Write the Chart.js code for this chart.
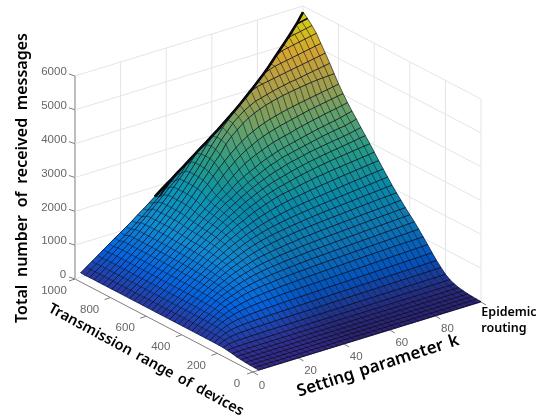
<!DOCTYPE html>
<html>
<head>
<meta charset="utf-8">
<title>Total number of received messages</title>
<script src="https://cdn.jsdelivr.net/npm/chart.js@4/dist/chart.umd.js"></script>
<style>
  html, body { margin: 0; padding: 0; background: #fff; }
  #wrap { width: 546px; height: 419px; }
</style>
</head>
<body>
<div id="wrap"><canvas id="chart" width="546" height="419"></canvas></div>
<script>
/* ---------- Data ---------- */
const zTicks = [0, 1000, 2000, 3000, 4000, 5000, 6000];
const rangeTicks = [0, 200, 400, 600, 800, 1000];
const kTicks = [0, 20, 40, 60, 80];

const kValues = [2.5,5,7.5,10,12.5,15,17.5,20,22.5,25,27.5,30,32.5,35,37.5,40,42.5,45,47.5,50,
  52.5,55,57.5,60,62.5,65,67.5,70,72.5,75,77.5,80,82.5,85,87.5,90,92.5,95,97.5,100];
const rangeValues = [0,25,50,75,100,125,150,175,200,225,250,275,300,325,350,375,400,425,450,475,500,
  525,550,575,600,625,650,675,700,725,750,775,800,825,850,875,900,925,950,975,1000];

// one row per transmission range, one column per k
const messages = [
  [8,8,8,8,8,8,8,8,8,8,8,8,8,8,8,9,9,9,9,9,9,9,9,9,9,9,9,9,9,9,9,10,10,10,10,10,10,10,10,10],
  [11,11,12,12,12,12,12,12,12,12,12,12,12,13,13,13,13,13,13,13,13,13,13,14,14,14,14,14,14,14,14,14,14,14,15,15,15,15,15,15],
  [19,19,19,19,20,20,20,20,20,20,20,21,21,21,21,21,21,22,22,22,22,22,22,23,23,23,23,23,23,23,24,24,24,24,24,24,25,25,25,25],
  [26,27,27,27,27,28,28,28,28,28,29,29,29,29,30,30,30,30,30,31,31,31,31,32,32,32,32,32,33,33,33,33,33,34,34,34,34,35,35,35],
  [40,42,42,43,43,43,44,44,44,45,45,45,46,46,46,47,47,47,48,48,48,49,49,50,50,50,51,51,51,52,52,52,53,53,53,54,54,54,55,55],
  [56,60,61,62,62,63,64,64,64,65,66,66,66,67,68,68,68,69,70,70,70,71,72,72,72,73,74,74,74,75,76,76,76,77,78,78,78,79,80,80],
  [83,90,92,93,94,95,95,96,97,98,98,99,100,101,101,102,103,104,104,105,106,107,107,108,109,110,110,111,112,113,113,114,115,116,116,117,118,119,119,120],
  [105,130,136,139,141,142,143,144,145,146,147,149,150,151,152,153,154,155,156,158,159,160,161,162,163,164,165,167,168,169,170,171,172,173,174,176,177,178,179,180],
  [121,177,197,204,208,211,213,215,218,220,221,223,224,226,228,230,231,233,235,236,238,240,241,243,245,247,248,250,251,253,255,257,258,260,262,263,265,267,268,270],
  [127,216,265,288,300,307,313,316,320,323,328,330,332,335,338,340,342,345,348,350,352,355,358,360,362,365,368,370,372,375,378,380,382,385,388,390,392,395,398,400],
  [129,234,310,356,386,402,412,421,428,434,438,443,447,451,455,458,462,466,469,473,476,479,483,486,489,493,496,500,503,507,510,513,516,520,523,527,530,534,537,540],
  [129,242,337,407,459,494,517,532,541,552,561,569,576,582,587,592,596,601,606,611,617,622,626,630,634,639,643,648,652,657,661,665,669,674,678,683,687,692,696,700],
  [129,245,352,441,513,565,604,633,655,672,684,696,708,718,727,733,740,747,753,757,763,770,775,780,786,792,798,805,809,815,821,826,832,838,843,848,853,860,865,870],
  [130,247,358,455,541,610,662,704,742,772,792,810,826,838,853,864,874,885,893,902,910,918,926,933,941,949,956,964,971,979,986,993,1000,1007,1014,1019,1022,1025,1028,1030],
  [130,248,362,468,567,653,716,771,825,865,892,918,940,952,974,987,999,1012,1024,1031,1045,1054,1062,1070,1076,1085,1093,1100,1108,1116,1123,1130,1138,1146,1153,1160,1167,1176,1183,1190],
  [130,249,365,474,578,674,750,815,873,926,964,1000,1030,1053,1077,1094,1108,1125,1139,1150,1164,1177,1186,1195,1203,1213,1222,1231,1240,1250,1258,1267,1275,1284,1292,1300,1309,1318,1329,1340],
  [130,250,368,480,589,694,783,859,920,986,1036,1081,1119,1153,1180,1201,1216,1239,1254,1269,1284,1301,1310,1320,1331,1342,1352,1362,1372,1383,1393,1403,1412,1422,1432,1441,1451,1461,1470,1480],
  [130,250,369,483,598,705,800,887,958,1033,1092,1144,1193,1233,1270,1298,1322,1347,1363,1387,1399,1421,1434,1445,1460,1471,1483,1494,1505,1517,1528,1539,1550,1561,1572,1582,1592,1604,1612,1620],
  [130,250,370,486,606,715,818,914,995,1079,1146,1205,1265,1312,1360,1392,1424,1452,1469,1503,1512,1541,1558,1569,1588,1600,1613,1625,1638,1650,1662,1675,1686,1699,1710,1722,1733,1747,1758,1770],
  [130,250,369,486,609,721,830,930,1022,1113,1192,1258,1328,1387,1443,1488,1527,1561,1590,1622,1638,1667,1686,1703,1723,1739,1754,1769,1783,1796,1810,1823,1837,1851,1864,1877,1889,1901,1911,1920],
  [130,250,368,485,611,727,840,944,1046,1144,1232,1304,1383,1455,1518,1574,1620,1660,1698,1729,1750,1781,1803,1825,1848,1870,1888,1905,1920,1935,1950,1965,1980,1995,2010,2024,2038,2052,2066,2080],
  [130,250,369,486,612,731,848,955,1061,1167,1262,1348,1434,1509,1582,1648,1702,1751,1797,1835,1866,1899,1927,1952,1976,1997,2018,2037,2056,2073,2091,2109,2127,2144,2161,2178,2196,2215,2232,2250],
  [130,250,369,487,613,734,853,964,1075,1190,1290,1390,1484,1565,1641,1720,1781,1842,1893,1940,1977,2016,2049,2082,2109,2131,2155,2177,2199,2220,2240,2262,2285,2305,2326,2345,2364,2383,2402,2420],
  [130,250,370,488,614,737,858,972,1087,1210,1316,1424,1526,1621,1703,1795,1860,1935,1998,2053,2102,2149,2192,2229,2258,2286,2315,2342,2367,2392,2414,2436,2459,2480,2500,2521,2541,2561,2581,2600],
  [130,250,370,490,615,740,862,980,1098,1229,1341,1457,1566,1676,1763,1868,1940,2027,2102,2165,2229,2284,2336,2377,2406,2436,2478,2508,2536,2569,2585,2615,2635,2655,2675,2695,2715,2735,2755,2780],
  [130,250,370,490,616,742,865,985,1107,1240,1357,1479,1593,1710,1815,1912,2000,2095,2178,2248,2320,2390,2442,2495,2533,2575,2620,2658,2692,2725,2754,2783,2808,2832,2853,2874,2895,2917,2938,2960],
  [130,250,370,490,617,743,867,988,1115,1249,1370,1498,1620,1740,1860,1961,2060,2158,2255,2335,2412,2486,2548,2605,2652,2695,2745,2785,2822,2860,2890,2922,2947,2975,3000,3025,3050,3077,3105,3130],
  [130,250,370,490,618,744,869,992,1121,1255,1378,1515,1638,1768,1893,2010,2120,2215,2322,2410,2505,2580,2650,2720,2778,2825,2885,2925,2960,3000,3042,3070,3098,3125,3150,3175,3200,3228,3265,3300],
  [130,250,370,490,618,745,871,995,1127,1261,1385,1530,1655,1793,1924,2056,2176,2266,2388,2482,2592,2671,2752,2834,2902,2953,3021,3058,3095,3132,3170,3207,3245,3282,3312,3342,3366,3390,3435,3480],
  [130,250,370,490,619,747,873,998,1132,1268,1396,1541,1672,1815,1948,2088,2220,2330,2460,2590,2690,2780,2860,2950,3020,3080,3140,3190,3230,3270,3310,3350,3390,3430,3460,3495,3525,3560,3605,3650],
  [130,250,370,490,619,748,875,1000,1135,1275,1410,1555,1695,1840,1985,2130,2270,2410,2560,2710,2840,2960,3050,3130,3200,3270,3330,3380,3420,3460,3510,3550,3590,3630,3660,3700,3730,3760,3795,3830],
  [130,250,370,490,620,749,877,1003,1140,1283,1425,1575,1725,1880,2040,2200,2365,2530,2700,2860,3000,3130,3240,3330,3420,3490,3550,3600,3650,3690,3730,3770,3810,3850,3880,3910,3940,3970,4000,4030],
  [130,250,370,490,620,750,878,1005,1145,1290,1438,1604,1750,1920,2090,2298,2470,2658,2836,3003,3156,3296,3423,3534,3623,3703,3771,3828,3874,3919,3960,3995,4030,4058,4090,4120,4150,4180,4210,4240],
  [130,250,370,490,620,750,879,1007,1147,1295,1445,1607,1772,1950,2130,2320,2520,2720,2945,3130,3380,3560,3700,3840,3950,4040,4110,4170,4220,4260,4300,4330,4360,4385,4410,4430,4450,4460,4470,4480],
  [130,250,370,490,620,750,880,1008,1148,1297,1447,1608,1778,1957,2145,2340,2550,2760,2990,3211,3440,3630,3826,3967,4094,4190,4270,4318,4365,4412,4450,4484,4520,4543,4570,4602,4632,4661,4690,4720],
  [130,250,370,490,620,750,880,1009,1148,1298,1448,1609,1779,1958,2147,2345,2555,2770,3000,3240,3450,3680,3860,4040,4200,4360,4500,4570,4610,4640,4670,4703,4735,4765,4795,4826,4856,4888,4920,4950],
  [130,250,370,490,620,750,880,1009,1148,1298,1448,1609,1779,1958,2147,2345,2555,2775,2985,3210,3400,3550,3690,3830,3970,4120,4280,4440,4610,4780,4860,4912,4945,4977,5009,5041,5073,5105,5138,5170],
  [130,250,370,490,620,750,880,1009,1148,1298,1448,1609,1779,1958,2147,2340,2520,2740,2940,3070,3200,3340,3480,3620,3760,3900,4055,4215,4380,4545,4720,4905,5100,5195,5228,5265,5299,5332,5366,5400],
  [130,250,370,490,620,750,880,1005,1140,1285,1430,1590,1745,1900,2070,2210,2380,2590,2730,2880,3013,3138,3268,3408,3548,3683,3833,3988,4143,4313,4483,4658,4858,5058,5258,5421,5456,5490,5525,5560],
  [125,245,360,470,595,715,830,945,1075,1210,1340,1480,1640,1780,1960,2120,2280,2424,2549,2679,2809,2934,3059,3194,3329,3469,3609,3759,3914,4074,4244,4414,4589,4794,4994,5194,5404,5624,5665,5700],
  [130,250,370,490,610,730,850,960,1080,1200,1330,1450,1580,1710,1840,1970,2090,2220,2340,2470,2600,2730,2850,2980,3110,3250,3390,3530,3680,3840,4000,4170,4340,4520,4730,4930,5130,5340,5560,5820]
];

const zMax = 5820;
const rangeMax = 1000;
const kMax = 100;
const zTop = 6000;

/* ---------- View ---------- */
// fixed oblique view of the MATLAB axes box
const project = (r, k, z) => ({
  x: 253 - 178 * r / rangeMax + 228 * k / kMax,
  y: 372 - 93 * r / rangeMax - 70 * k / kMax - 203 * z / zTop
});

const parulaStops = [
  [0, 53, 42, 135], [0.11, 3, 99, 225], [0.24, 16, 142, 210], [0.37, 11, 165, 197],
  [0.49, 43, 183, 160], [0.62, 113, 191, 128], [0.75, 195, 188, 90], [0.87, 252, 195, 58], [1, 249, 251, 14]
];
// the reference mesh gets denser with k, which darkens the faces there
const meshShade = k => k < 25 ? 1 : k > 45 ? 0.84 : 1 - 0.16 * (k - 25) / 20;
function parula(t, shade) {
  t = Math.min(1, Math.max(0, t));
  let i = 0;
  while (i < parulaStops.length - 2 && t > parulaStops[i + 1][0]) i++;
  const a = parulaStops[i], b = parulaStops[i + 1];
  const f = (t - a[0]) / (b[0] - a[0]);
  const c = [1, 2, 3].map(n => Math.round((a[n] + (b[n] - a[n]) * f) * shade));
  return `rgb(${c[0]},${c[1]},${c[2]})`;
}

/* ---------- Datasets ---------- */
const lineSet = (data, color, width) => ({
  data, showLine: true, pointRadius: 0, borderColor: color, borderWidth: width, fill: false, clip: false
});

const frontSets = [], cellSets = [], backSets = [];

// mesh lines, on top of the cells
const meshRow = "rgba(8,10,30,0.8)";
messages.forEach((row, i) => {
  const pts = row.map((z, j) => project(rangeValues[i], kValues[j], z));
  frontSets.push(lineSet(pts, meshRow, 1));
  // the last rows pile up into a black rim, only on the upper part of the edge
  if (rangeValues[i] >= 975) {
    const rim = pts.filter((p, j) => kValues[j] >= 35);
    frontSets.push(lineSet(rim, "#050505", rangeValues[i] === rangeMax ? 2.6 : 1.6));
  }
});
kValues.forEach((k, j) => {
  const pts = messages.map((row, i) => project(rangeValues[i], k, row[j]));
  frontSets.push(lineSet(pts, "rgba(8,10,30,0.55)", 1));
});

// cells, near ones first because Chart.js paints the first dataset last
for (let i = 0; i < rangeValues.length - 1; i++) {
  for (let j = 0; j < kValues.length - 1; j++) {
    const z = [messages[i][j], messages[i][j + 1], messages[i + 1][j + 1], messages[i + 1][j]];
    const r0 = rangeValues[i], r1 = rangeValues[i + 1], k0 = kValues[j], k1 = kValues[j + 1];
    const color = parula((z[0] + z[1] + z[2] + z[3]) / 4 / zMax, meshShade(k0));
    cellSets.push({
      data: [project(r0, k0, z[0]), project(r0, k1, z[1]), project(r1, k1, z[2]), project(r1, k0, z[3]), project(r0, k0, z[0])],
      showLine: true, pointRadius: 0, fill: "shape", backgroundColor: color,
      borderColor: color, borderWidth: 0.6, clip: false
    });
  }
}

// axes box
const grid = "#e4e4e4", axisGray = "#7d7d7d";
zTicks.forEach(z => {
  backSets.push(lineSet([project(rangeMax, 0, z), project(rangeMax, kMax, z), project(0, kMax, z)], grid, 1));
});
kTicks.concat(kMax).filter(k => k > 0).forEach(k => {
  backSets.push(lineSet([project(rangeMax, k, 0), project(rangeMax, k, zTop)], grid, 1));
});
rangeTicks.slice(0, 5).forEach(r => {
  backSets.push(lineSet([project(r, kMax, 0), project(r, kMax, zTop)], grid, 1));
});
backSets.push(lineSet([project(rangeMax, 0, 0), project(rangeMax, 0, zTop)], axisGray, 1));
backSets.push(lineSet([project(rangeMax, 0, 0), project(0, 0, 0), project(0, kMax, 0)], axisGray, 1));
const nudge = (p, dx, dy) => ({ x: p.x + dx, y: p.y + dy });
zTicks.forEach(z => {
  const p = project(rangeMax, 0, z);
  backSets.push(lineSet([p, nudge(p, -6, -2)], axisGray, 1));
});
rangeTicks.forEach(r => {
  const p = project(r, 0, 0);
  backSets.push(lineSet([p, nudge(p, -6, 2)], axisGray, 1));
});
kTicks.concat(kMax).forEach(k => {
  const p = project(0, k, 0);
  backSets.push(lineSet([p, nudge(p, 5, 3)], axisGray, 1));
});

/* ---------- Text ---------- */
const tickFont = '11.5px "Liberation Sans"';
const titleFont = size => `600 ${size}px "Noto Sans"`;

function label(ctx, text, x, y, font, color, angle, spacing) {
  ctx.save();
  ctx.translate(x, y);
  ctx.rotate((angle || 0) * Math.PI / 180);
  ctx.font = font;
  ctx.fillStyle = color;
  ctx.textAlign = "center";
  ctx.textBaseline = "middle";
  ctx.wordSpacing = spacing || "0px";
  ctx.fillText(text, 0, 0);
  ctx.restore();
}

const boxText = {
  id: "boxText",
  afterDatasetsDraw(chart) {
    const { ctx, scales } = chart;
    const at = (p, dx, dy) => [scales.x.getPixelForValue(p.x) + dx, scales.y.getPixelForValue(p.y) + dy];
    zTicks.forEach(z => {
      const [x, y] = at(project(rangeMax, 0, z), z === 0 ? -12 : -21, -4);
      label(ctx, String(z), x, y, tickFont, "#666");
    });
    rangeTicks.forEach(r => {
      const [x, y] = at(project(r, 0, 0), r === 0 ? -16 : -21, 12);
      label(ctx, String(r), x, y, tickFont, "#666");
    });
    kTicks.forEach(k => {
      const [x, y] = at(project(0, k, 0), k === 0 ? 9 : 12, k === 0 ? 14 : 13);
      label(ctx, String(k), x, y, tickFont, "#666");
    });
    label(ctx, "Total number of received messages", 22, 178, titleFont(16), "#000", -90, "3.5px");
    label(ctx, "Transmission range of devices", 146, 360, titleFont(14.5), "#000", 28.5, "2.5px");
    label(ctx, "Setting parameter k", 378, 366, titleFont(17), "#000", -18, "1.5px");
    label(ctx, "Epidemic", 509, 312, titleFont(12.5), "#000");
    label(ctx, "routing", 504, 328, titleFont(12.5), "#000");
  }
};

/* ---------- Chart ---------- */
new Chart(document.getElementById("chart"), {
  type: "scatter",
  data: { datasets: frontSets.concat(cellSets, backSets) },
  options: {
    responsive: false,
    animation: false,
    devicePixelRatio: 1,
    events: [],
    layout: { padding: 0 },
    elements: { line: { tension: 0 } },
    plugins: { legend: { display: false }, tooltip: { enabled: false } },
    scales: {
      x: { type: "linear", min: 0, max: 546, display: false },
      y: { type: "linear", min: 0, max: 419, reverse: true, display: false }
    }
  },
  plugins: [boxText]
});
</script>
</body>
</html>
